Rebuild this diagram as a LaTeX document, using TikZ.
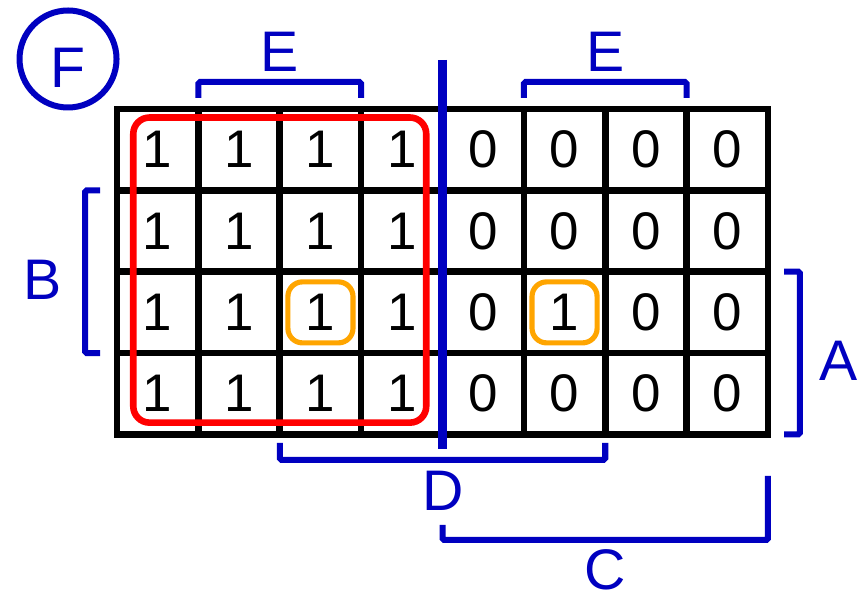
\documentclass[tikz,border=0pt]{standalone}
\usepackage{fontspec}
\setmainfont{Liberation Sans}
\usetikzlibrary{arrows.meta, positioning}
\definecolor{mapblue}{RGB}{0,0,192}
\definecolor{maporange}{RGB}{255,165,0}

\tikzset{
    mapgrid/.style={line width=2.3pt, black},
    bitval/.style={font=\fontsize{18.5}{20}\selectfont, inner sep=0pt},
    varlabel/.style={font=\fontsize{20}{22}\selectfont, text=mapblue, inner sep=0pt},
    varbracket/.style={line width=2.1pt, mapblue, rounded corners=0.6pt},
    redloop/.style={line width=2.3pt, red, rounded corners=0.2cm},
    singleloop/.style={draw=maporange, line width=1.8pt, rounded corners=0.18cm,
        minimum width=0.8cm, minimum height=0.75cm, inner sep=0pt}
}

\begin{document}
\begin{tikzpicture}
    \useasboundingbox (-1.438,1.339) rectangle (9.180,-5.948);

    % Tên hàm
    \node[draw=mapblue, line width=2.1pt, circle, minimum size=1.192cm, inner sep=0pt] (fcircle) at (-0.602,0.614) {};
    \node[varlabel] (flabel) at (-0.602,0.504) {F};

    % Lưới bản đồ Karnaugh
    \draw[mapgrid] (0,0) grid (8,-4);
    \draw[mapgrid, line join=miter] (0,0) rectangle (8,-4);

    % Các giá trị trong ô
    \foreach \vals [count=\r from 0] in {{1,1,1,1,0,0,0,0},{1,1,1,1,0,0,0,0},{1,1,1,1,0,1,0,0},{1,1,1,1,0,0,0,0}} {
        \foreach \v [count=\c from 0] in \vals
            \node[bitval] (bit-\r-\c) at (\c+0.5,-\r-0.5) {\v};
    }

    % Các nhóm
    \draw[redloop] (0.2,-0.105) rectangle (3.8,-3.855);
    \node[singleloop] (single-a) at (bit-2-2) {};
    \node[singleloop] (single-b) at (bit-2-5) {};

    % Đường chia đôi
    \draw[line width=3.15pt, mapblue] (4,0.602) -- (4,-4.178);

    % Các biến
    \draw[varbracket] (1,0.135) -- (1,0.332) -- (3,0.332) -- (3,0.135);
    \node[varlabel] (lbl-e1) at (2,0.70) {E};
    \draw[varbracket] (5,0.135) -- (5,0.332) -- (7,0.332) -- (7,0.135);
    \node[varlabel] (lbl-e2) at (6,0.70) {E};

    \draw[varbracket] (-0.209,-1) -- (-0.393,-1) -- (-0.393,-3) -- (-0.209,-3);
    \node[varlabel] (lbl-b) at (-0.909,-2.10) {B};

    \draw[varbracket] (8.197,-2) -- (8.393,-2) -- (8.393,-4) -- (8.197,-4);
    \node[varlabel] (lbl-a) at (8.873,-3.097) {A};

    \draw[varbracket] (2,-4.104) -- (2,-4.313) -- (6,-4.313) -- (6,-4.104);
    \node[varlabel] (lbl-d) at (4.006,-4.694) {D};

    \draw[varbracket] (4,-5.112) -- (4,-5.297) -- (8,-5.297) -- (8,-4.510);
    \node[varlabel] (lbl-c) at (6,-5.66) {C};
\end{tikzpicture}
\end{document}
